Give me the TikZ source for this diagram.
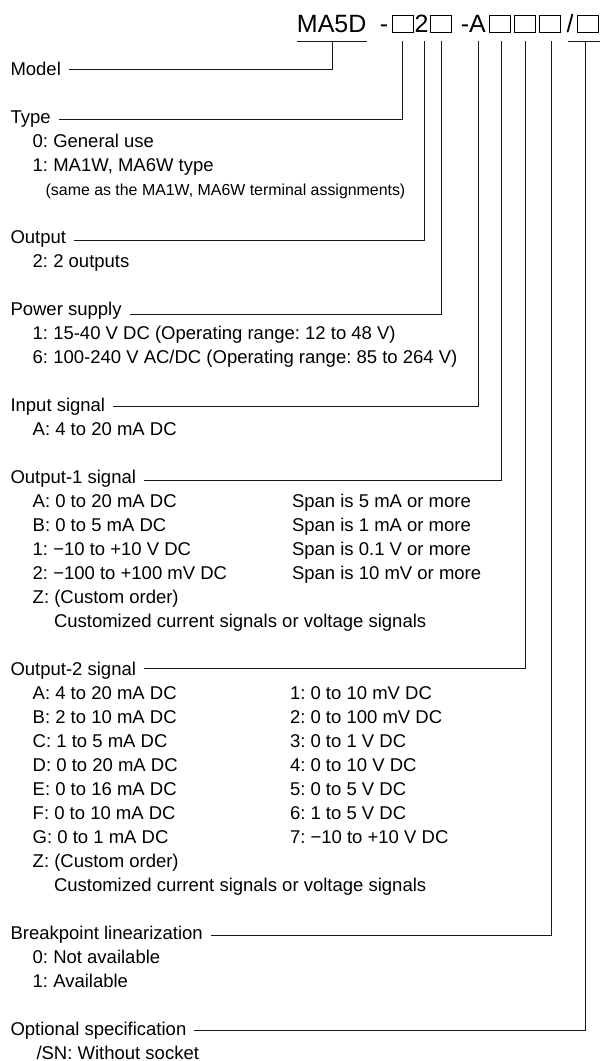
\documentclass[tikz,border=0pt]{standalone}
\usepackage{fontspec}
\setmainfont{Liberation Sans}
\frenchspacing
\begin{document}
\frenchspacing
\begin{tikzpicture}[x=1pt,y=-1pt,
  txt/.style={anchor=base west,inner sep=0pt,outer sep=0pt,font=\fontsize{18.5}{22}\selectfont},
  note/.style={anchor=base west,inner sep=0pt,outer sep=0pt,font=\fontsize{15.9}{19}\selectfont},
  codetxt/.style={anchor=base,inner sep=0pt,outer sep=0pt,font=\fontsize{25}{30}\selectfont},
  slot/.style={draw,line width=0.9pt,minimum width=21pt,minimum height=17.3pt,inner sep=0pt,outer sep=0pt,anchor=south},
  conn/.style={line width=1pt,black!90}]
\useasboundingbox (0,0) rectangle (600,1061);
% ---- model code row ----
\node[codetxt] (mdl) at (331.7,32.3) {MA5D};
\node[codetxt] (d1) at (384,32.3) {-};
\node[slot] (b1) at (402.5,32.3) {};
\node[codetxt] (two) at (421.5,32.3) {2};
\node[slot] (b2) at (441.3,32.3) {};
\node[codetxt] (da) at (473.3,32.3) {-A};
\node[slot] (b3) at (500.3,32.3) {};
\node[slot] (b4) at (525.3,32.3) {};
\node[slot] (b5) at (550,32.3) {};
\node[codetxt] (sl) at (570,32.3) {/};
\node[slot] (b6) at (588.3,32.3) {};
% underline level and tops of the connectors
\coordinate (uA) at (296.7,41);
\coordinate (uB) at (366.7,41);
\coordinate (uC) at (568,41);
\coordinate (uD) at (600,41);
\draw[conn] (uA) -- (uB);
\draw[conn] (uC) -- (uD);
\coordinate (t0) at (332.3,41);
\coordinate (t1) at (402.7,41);
\coordinate (t2) at (424,41);
\coordinate (t3) at (441.7,41);
\coordinate (t4) at (478.3,41);
\coordinate (t5) at (501,41);
\coordinate (t6) at (525.7,41);
\coordinate (t7) at (551.7,41);
\coordinate (t8) at (585,41);
% line levels
\coordinate (l0) at (0,69.3);
\coordinate (l1) at (0,119.3);
\coordinate (l2) at (0,240);
\coordinate (l3) at (0,314);
\coordinate (l4) at (0,406.7);
\coordinate (l5) at (0,480);
\coordinate (l6) at (0,668.3);
\coordinate (l7) at (0,935.7);
\coordinate (l8) at (0,1030.7);
% ---- Model ----
\node[txt] (hModel) at (10.5,75) {Model};
% ---- Type ----
\node[txt] (hType) at (10.5,123) {Type};
\node[txt] (ty0) at (32.7,147) {0: General use};
\node[txt] (ty1) at (32.7,171) {1: MA1W, MA6W type};
\node[note] (ty2) at (45.7,195) {(same as the MA1W, MA6W terminal assignments)};
% ---- Output ----
\node[txt] (hOut) at (10.5,243) {Output};
\node[txt] (ou2) at (32.7,267) {2: 2 outputs};
% ---- Power supply ----
\node[txt] (hPow) at (10.5,315) {Power supply};
\node[txt] (pw1) at (32.7,339) {1: 15-40 V DC (Operating range: 12 to 48 V)};
\node[txt] (pw6) at (32.7,363) {6: 100-240 V AC/DC (Operating range: 85 to 264 V)};
% ---- Input ----
\node[txt] (hIn) at (10.5,411) {Input signal};
\node[txt] (inA) at (32.7,435) {A: 4 to 20 mA DC};
% ---- Output-1 ----
\node[txt] (hO1) at (10.5,483) {Output-1 signal};
\node[txt] (o1A) at (32.7,507) {A: 0 to 20 mA DC};
\node[txt] (o1B) at (32.7,531) {B: 0 to 5 mA DC};
\node[txt] (o11) at (32.7,555) {1: −10 to +10 V DC};
\node[txt] (o12) at (32.7,579) {2: −100 to +100 mV DC};
\node[txt] (o1Z) at (32.7,603) {Z: (Custom order)};
\node[txt] (o1C) at (54,627) {Customized current signals or voltage signals};
\node[txt] (s1A) at (292,507) {Span is 5 mA or more};
\node[txt] (s1B) at (292,531) {Span is 1 mA or more};
\node[txt] (s11) at (292,555) {Span is 0.1 V or more};
\node[txt] (s12) at (292,579) {Span is 10 mV or more};
% ---- Output-2 ----
\node[txt] (hO2) at (10.5,675) {Output-2 signal};
\node[txt] (o2A) at (32.7,699) {A: 4 to 20 mA DC};
\node[txt] (o2B) at (32.7,723) {B: 2 to 10 mA DC};
\node[txt] (o2C) at (32.7,747) {C: 1 to 5 mA DC};
\node[txt] (o2D) at (32.7,771) {D: 0 to 20 mA DC};
\node[txt] (o2E) at (32.7,795) {E: 0 to 16 mA DC};
\node[txt] (o2F) at (32.7,819) {F: 0 to 10 mA DC};
\node[txt] (o2G) at (32.7,843) {G: 0 to 1 mA DC};
\node[txt] (o2Z) at (32.7,867) {Z: (Custom order)};
\node[txt] (o2X) at (54,891) {Customized current signals or voltage signals};
\node[txt] (o21) at (290,699) {1: 0 to 10 mV DC};
\node[txt] (o22) at (290,723) {2: 0 to 100 mV DC};
\node[txt] (o23) at (290,747) {3: 0 to 1 V DC};
\node[txt] (o24) at (290,771) {4: 0 to 10 V DC};
\node[txt] (o25) at (290,795) {5: 0 to 5 V DC};
\node[txt] (o26) at (290,819) {6: 1 to 5 V DC};
\node[txt] (o27) at (290,843) {7: −10 to +10 V DC};
% ---- Breakpoint ----
\node[txt] (hBr) at (10.5,939) {Breakpoint linearization};
\node[txt] (br0) at (32.7,963) {0: Not available};
\node[txt] (br1) at (32.7,987) {1: Available};
% ---- Optional ----
\node[txt] (hOp) at (10.5,1035) {Optional specification};
\node[txt] (opS) at (36.5,1059) {/SN: Without socket};
% ---- connectors ----
\draw[conn] ([xshift=8pt]hModel.east |- l0) -| (t0);
\draw[conn] ([xshift=8pt]hType.east |- l1) -| (t1);
\draw[conn] ([xshift=8pt]hOut.east |- l2) -| (t2);
\draw[conn] ([xshift=8pt]hPow.east |- l3) -| (t3);
\draw[conn] ([xshift=8pt]hIn.east |- l4) -| (t4);
\draw[conn] ([xshift=8pt]hO1.east |- l5) -| (t5);
\draw[conn] ([xshift=8pt]hO2.east |- l6) -| (t6);
\draw[conn] ([xshift=8pt]hBr.east |- l7) -| (t7);
\draw[conn] ([xshift=8pt]hOp.east |- l8) -| (t8);
\end{tikzpicture}
\end{document}
